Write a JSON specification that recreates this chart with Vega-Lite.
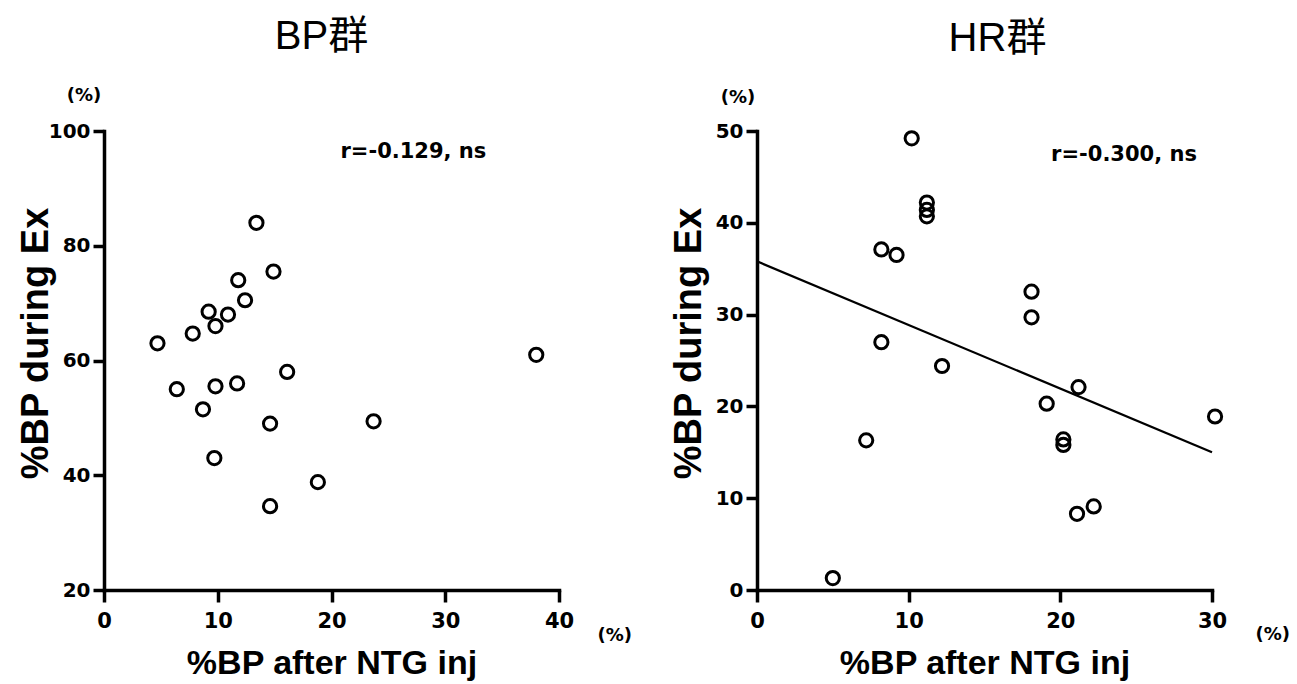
{
  "$schema": "https://vega.github.io/schema/vega-lite/v6.json",
  "background": "white",
  "padding": {"left": 17, "top": 17, "right": 5, "bottom": 5},
  "spacing": 198,
  "bounds": "flush",
  "datasets": {
    "bp": [
      {"x": 4.7, "y": 63}, {"x": 6.4, "y": 55}, {"x": 7.8, "y": 64.7}, {"x": 8.7, "y": 51.5},
      {"x": 9.2, "y": 68.5}, {"x": 9.7, "y": 43}, {"x": 9.8, "y": 66}, {"x": 9.8, "y": 55.5},
      {"x": 10.9, "y": 68}, {"x": 11.7, "y": 56}, {"x": 11.8, "y": 74}, {"x": 12.4, "y": 70.5},
      {"x": 13.4, "y": 84}, {"x": 14.6, "y": 49}, {"x": 14.6, "y": 34.6}, {"x": 14.9, "y": 75.5},
      {"x": 16.1, "y": 58}, {"x": 18.8, "y": 38.8}, {"x": 23.7, "y": 49.4}, {"x": 38, "y": 61}
    ],
    "hr": [
      {"x": 5, "y": 1.3}, {"x": 7.2, "y": 16.3}, {"x": 8.2, "y": 27}, {"x": 8.2, "y": 37.1},
      {"x": 9.2, "y": 36.5}, {"x": 10.2, "y": 49.2}, {"x": 11.2, "y": 42.2}, {"x": 11.2, "y": 41.4},
      {"x": 11.2, "y": 40.7}, {"x": 12.2, "y": 24.4}, {"x": 18.1, "y": 32.5}, {"x": 18.1, "y": 29.7},
      {"x": 19.1, "y": 20.3}, {"x": 20.2, "y": 16.4}, {"x": 20.2, "y": 15.8}, {"x": 21.1, "y": 8.3},
      {"x": 21.2, "y": 22.1}, {"x": 22.2, "y": 9.1}, {"x": 30.2, "y": 18.9}
    ],
    "hr_fit": [{"x": 0, "y": 35.8}, {"x": 30, "y": 15}],
    "notes_bp": [
      {"kind": "r", "x": 27.2, "y": 96.3, "label": "r=-0.129, ns"},
      {"kind": "pct", "x": -1.75, "y": 106.1, "label": "(%)"},
      {"kind": "pct", "x": 44.9, "y": 12, "label": "(%)"}
    ],
    "notes_hr": [
      {"kind": "r", "x": 24.2, "y": 47.4, "label": "r=-0.300, ns"},
      {"kind": "pct", "x": -1.25, "y": 53.6, "label": "(%)"},
      {"kind": "pct", "x": 34, "y": -4.9, "label": "(%)"}
    ]
  },
  "hconcat": [
    {
      "title": {"text": "BP群", "dx": -10},
      "width": 455,
      "height": 459,
      "encoding": {
        "x": {"field": "x", "type": "quantitative", "title": "%BP after NTG inj",
              "scale": {"domain": [0, 40], "nice": false, "zero": false},
              "axis": {"values": [0, 10, 20, 30, 40]}},
        "y": {"field": "y", "type": "quantitative", "title": "%BP during Ex",
              "scale": {"domain": [20, 100], "nice": false, "zero": false},
              "axis": {"values": [20, 40, 60, 80, 100]}}
      },
      "layer": [
        {"data": {"name": "bp"},
         "mark": {"type": "point", "shape": "circle", "filled": false, "color": "black", "strokeWidth": 3, "size": 175, "opacity": 1}},
        {"data": {"name": "notes_bp"}, "transform": [{"filter": "datum.kind == 'r'"}],
         "mark": {"type": "text", "font": "DejaVu Sans", "fontWeight": "bold", "fontSize": 21, "color": "black", "align": "center", "baseline": "middle"},
         "encoding": {"text": {"field": "label"}}},
        {"data": {"name": "notes_bp"}, "transform": [{"filter": "datum.kind == 'pct'"}],
         "mark": {"type": "text", "font": "DejaVu Sans", "fontWeight": "bold", "fontSize": 18, "color": "black", "align": "center", "baseline": "middle"},
         "encoding": {"text": {"field": "label"}}}
      ]
    },
    {
      "title": {"text": "HR群", "dx": 13},
      "width": 455,
      "height": 459,
      "encoding": {
        "x": {"field": "x", "type": "quantitative", "title": "%BP after NTG inj",
              "scale": {"domain": [0, 30], "nice": false, "zero": false},
              "axis": {"values": [0, 10, 20, 30]}},
        "y": {"field": "y", "type": "quantitative", "title": "%BP during Ex",
              "scale": {"domain": [0, 50], "nice": false, "zero": false},
              "axis": {"values": [0, 10, 20, 30, 40, 50]}}
      },
      "layer": [
        {"data": {"name": "hr_fit"},
         "mark": {"type": "line", "color": "black", "strokeWidth": 2.2}},
        {"data": {"name": "hr"},
         "mark": {"type": "point", "shape": "circle", "filled": false, "color": "black", "strokeWidth": 3, "size": 175, "opacity": 1}},
        {"data": {"name": "notes_hr"}, "transform": [{"filter": "datum.kind == 'r'"}],
         "mark": {"type": "text", "font": "DejaVu Sans", "fontWeight": "bold", "fontSize": 21, "color": "black", "align": "center", "baseline": "middle"},
         "encoding": {"text": {"field": "label"}}},
        {"data": {"name": "notes_hr"}, "transform": [{"filter": "datum.kind == 'pct'"}],
         "mark": {"type": "text", "font": "DejaVu Sans", "fontWeight": "bold", "fontSize": 18, "color": "black", "align": "center", "baseline": "middle"},
         "encoding": {"text": {"field": "label"}}}
      ]
    }
  ],
  "config": {
    "view": {"stroke": null},
    "axis": {
      "grid": false,
      "domainColor": "black", "domainWidth": 3.5, "domainCap": "square",
      "tickColor": "black", "tickWidth": 3.5,
      "labelColor": "black", "labelFont": "DejaVu Sans", "labelFontWeight": "bold", "labelFontSize": 20, "labelFlush": false,
      "titleColor": "black", "titleFont": "Liberation Sans", "titleFontWeight": "bold"
    },
    "axisX": {"tickSize": 12, "labelPadding": 8, "labelFontSize": 21, "titleFontSize": 34, "titleY": 83, "titleBaseline": "alphabetic"},
    "axisY": {"tickSize": 11, "labelPadding": 3, "titleFontSize": 38, "titleX": -57, "titleY": 212, "titleAngle": -90, "titleBaseline": "alphabetic"},
    "title": {"font": "Liberation Sans, Noto Sans CJK JP", "fontSize": 40, "fontWeight": "normal", "color": "black", "baseline": "alphabetic", "offset": 30, "anchor": "middle", "frame": "group"}
  }
}
